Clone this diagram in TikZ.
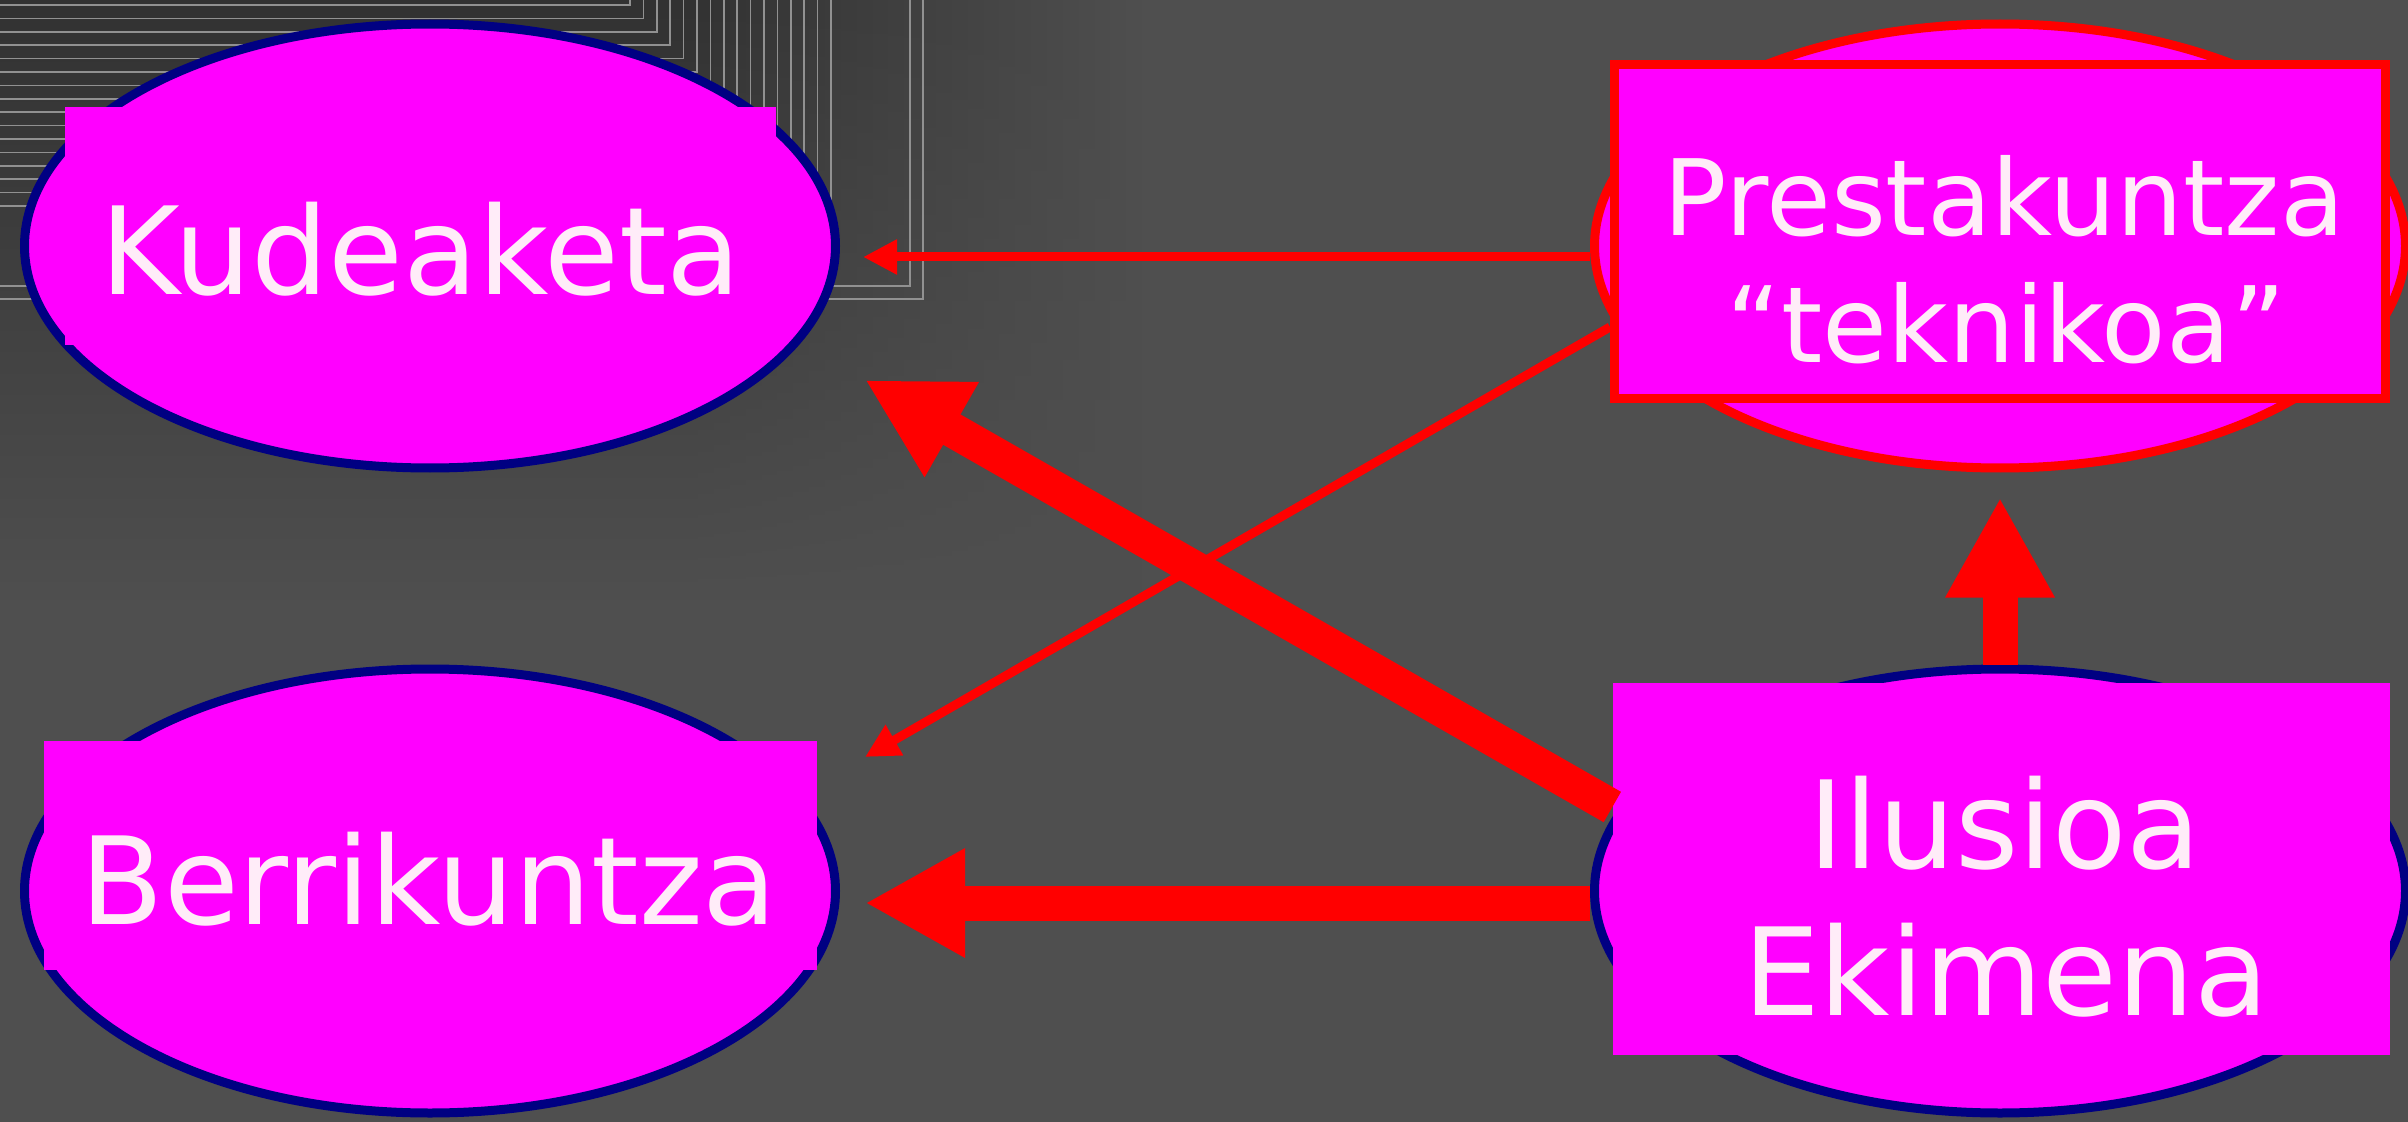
\documentclass[tikz,border=0pt]{standalone}
\usepackage{fontspec}
\setmainfont{DejaVu Sans}
\usetikzlibrary{arrows.meta,positioning,shapes.geometric,fadings}

\definecolor{bggray}{RGB}{79,79,79}
\definecolor{bgdark}{RGB}{50,50,50}
\definecolor{blobpink}{RGB}{255,0,255}
\definecolor{rimnavy}{RGB}{0,0,130}
\definecolor{rimred}{RGB}{255,0,0}
\definecolor{wordpink}{RGB}{255,236,248}
\definecolor{hatchgray}{RGB}{145,145,145}

\pgfdeclarehorizontalshading{cornershade}{100bp}{color(0bp)=(bgdark); color(55bp)=(bgdark); color(75bp)=(bggray); color(100bp)=(bggray)}
\tikzfading[name=fade down, top color=transparent!0, bottom color=transparent!100]

\begin{document}
\begin{tikzpicture}[x=0.1mm, y=-0.1mm,
  ellipsenode/.style={ellipse, fill=blobpink, line width=0.9mm, minimum width=81.1mm, minimum height=44.4mm, inner sep=0pt},
  boxnode/.style={rectangle, fill=blobpink, inner sep=0pt},
  wordnode/.style={text=wordpink, anchor=base, inner sep=0pt, font=\fontsize{34.6}{40}\selectfont},
  thinarrow/.style={draw=rimred, line width=0.9mm, -{Triangle[length=3.4mm,width=3.3mm]}},
  fatarrow/.style={draw=rimred, line width=3.5mm, -{Triangle[length=10mm,width=10.2mm]}}]
  \useasboundingbox (0,0) rectangle (2408,1122);
  \fill[bggray] (0,0) rectangle (2408,1122);
  \shade[shading=cornershade, path fading=fade down] (0,0) rectangle (1150,600);
  \foreach \k in {0,...,15}
    \draw[hatchgray, line width=0.15mm] (0,5+13.4*\k) -| (630+13.4*\k,0);
  \foreach \c/\r in {910/286, 923/299}
    \draw[hatchgray, line width=0.15mm] (0,\r) -| (\c,0);

  \node (kudE) [ellipsenode, draw=rimnavy] at (430,246) {};
  \node (berE) [ellipsenode, draw=rimnavy] at (430,891) {};
  \node (presE) [ellipsenode, draw=rimred] at (2000,246) {};
  \node (ilE) [ellipsenode, draw=rimnavy] at (2000,891) {};

  \node (kudR) [boxnode, minimum width=71.1mm, minimum height=23.8mm] at (420.5,226) {};
  \node (berR) [boxnode, minimum width=77.3mm, minimum height=22.9mm] at (430.5,855.5) {};
  \node (presR) [boxnode, draw=rimred, line width=0.9mm, minimum width=77.1mm, minimum height=33.4mm] at (2000,232) {};
  \node (ilR) [boxnode, minimum width=77.7mm, minimum height=37.2mm] at (2001.5,869) {};

  \node (kudT) [wordnode] at (421,294) {Kudeaketa};
  \node (berT) [wordnode] at (429,924) {Berrikuntza};
  \node (presT) [wordnode, font=\fontsize{30}{36}\selectfont] at (2004,235) {Prestakuntza};
  \node (teknT) [wordnode, font=\fontsize{30}{36}\selectfont] at (2006,362) {“teknikoa”};
  \node (ilT) [wordnode] at (2005,868) {Ilusioa};
  \node (ekT) [wordnode] at (2006,1015) {Ekimena};

  \path
  ([yshift=-1.1mm]presE.west) edge[thinarrow] ([xshift=2.3mm,yshift=-1.1mm]kudE.east)
  ([yshift=-9.5mm]presR.west) edge[thinarrow] ([xshift=2.5mm,yshift=13.4mm]berE.east)
  ([yshift=6.2mm]ilR.west) edge[fatarrow] ([xshift=2.5mm,yshift=-13.4mm]kudE.east)
  ([yshift=-1.2mm]ilE.west) edge[fatarrow] ([xshift=2.5mm,yshift=-1.2mm]berE.east)
  (ilE.north) edge[fatarrow] ([yshift=-2.5mm]presE.south);
\end{tikzpicture}
\end{document}
